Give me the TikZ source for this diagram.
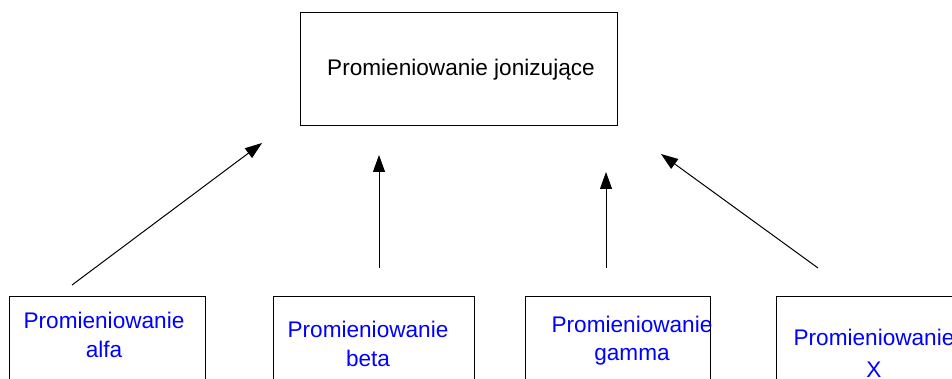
\documentclass[tikz,border=0pt]{standalone}
\usepackage{fontspec}
\setmainfont{Liberation Sans}
\usetikzlibrary{arrows.meta}
\begin{document}
\begin{tikzpicture}[x=1pt,y=-1pt,
  box/.style={draw=black,line width=1pt,rectangle,inner sep=0pt,anchor=north west},
  blue txt/.style={text=blue,inner sep=0pt,anchor=base,font=\fontsize{22.6}{27}\selectfont},
  black txt/.style={text=black,inner sep=0pt,anchor=base,font=\fontsize{22.6}{27}\selectfont},
  arr/.style={line width=1pt,-{Triangle[length=17pt,width=12pt]}}]
\useasboundingbox (0,0) rectangle (952,379);
\clip (0,0) rectangle (952,379);
% top box
\node[box,minimum width=317pt,minimum height=113pt] (top) at (300,12) {};
\node[black txt] (toptxt) at (461,76) {Promieniowanie jonizujące};
% bottom boxes
\node[box,minimum width=196pt,minimum height=150pt] (b1) at (9,296) {};
\node[box,minimum width=201pt,minimum height=150pt] (b2) at (273,296) {};
\node[box,minimum width=185pt,minimum height=150pt] (b3) at (525,296) {};
\node[box,minimum width=220pt,minimum height=150pt] (b4) at (776,296) {};
\node[blue txt] (t1a) at (104,328) {Promieniowanie};
\node[blue txt] (t1b) at (104,357) {alfa};
\node[blue txt] (t2a) at (368,337) {Promieniowanie};
\node[blue txt] (t2b) at (368,366) {beta};
\node[blue txt] (t3a) at (632,332) {Promieniowanie};
\node[blue txt] (t3b) at (632,360) {gamma};
\node[blue txt] (t4a) at (874,345) {Promieniowanie};
\node[blue txt] (t4b) at (874,377) {X};
% arrows
\coordinate (a1s) at (72,285);  \coordinate (a1e) at (262,143);
\coordinate (a2s) at (379,268); \coordinate (a2e) at (379,155);
\coordinate (a3s) at (606,268); \coordinate (a3e) at (606,172);
\coordinate (a4s) at (818,268); \coordinate (a4e) at (661,154);
\draw[arr] (a1s) -- (a1e);
\draw[arr] (a2s) -- (a2e);
\draw[arr] (a3s) -- (a3e);
\draw[arr] (a4s) -- (a4e);
\end{tikzpicture}
\end{document}
